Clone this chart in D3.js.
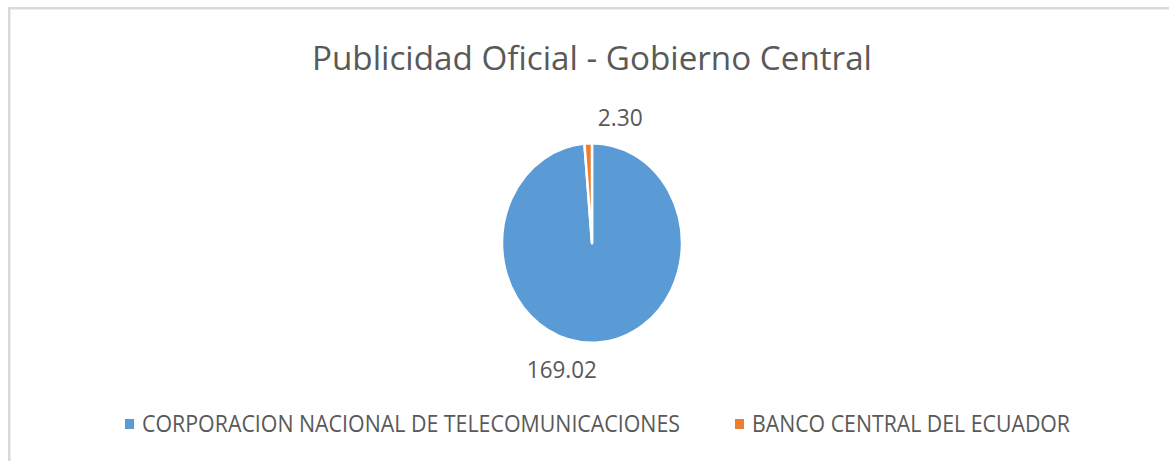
<!DOCTYPE html>
<html lang="es">
<head>
    <meta charset="UTF-8">
    <title>Publicidad Oficial - Gobierno Central</title>
    <style>
        body {
            margin: 0;
            background: #fff;
            font-family: "Open Sans", "Noto Sans", Arial, sans-serif;
        }
        text {
            fill: #595959;
        }
    </style>
</head>
<body>
    <div id="chart"></div>

    <script src="https://d3js.org/d3.v7.min.js"></script>
    <script>
        // Data
        const categories = ['CORPORACION NACIONAL DE TELECOMUNICACIONES', 'BANCO CENTRAL DEL ECUADOR'];
        const values = [169.02, 2.30];
        const title = 'Publicidad Oficial - Gobierno Central';

        // Layout
        const W = 1169, H = 461;
        const cx = 592, cy = 243;
        const radius = 100;
        const squeeze = 0.9;            // the pie is drawn a bit narrower than tall
        const colors = ['#5B9BD5', '#ED7D31'];
        const labelDx = [-35, 33];
        const labelWidths = [70, 45];
        const legendX = [125, 735];
        const legendWidths = [538, 318];

        const svg = d3.select('#chart')
            .append('svg')
            .attr('width', W)
            .attr('height', H);

        // chart frame (continues off the right and bottom edges)
        svg.append('rect')
            .attr('x', 9.25)
            .attr('y', 8.25)
            .attr('width', W + 20)
            .attr('height', H + 20)
            .attr('fill', '#fff')
            .attr('stroke', '#d9d9d9')
            .attr('stroke-width', 2.5);

        svg.append('text')
            .attr('x', 312)
            .attr('y', 70)
            .attr('font-size', 33)
            .attr('textLength', 560)
            .attr('lengthAdjust', 'spacingAndGlyphs')
            .text(title);

        const pie = d3.pie().sort(null).value(d => d);
        const arcs = pie(values);

        const arc = d3.arc().innerRadius(0).outerRadius(radius);
        const labelArc = d3.arc().innerRadius(radius * 1.27).outerRadius(radius * 1.27);

        const g = svg.append('g')
            .attr('transform', `translate(${cx},${cy}) scale(${squeeze},1)`);

        g.selectAll('path')
            .data(arcs)
            .enter()
            .append('path')
            .attr('d', arc)
            .attr('fill', (d, i) => colors[i])
            .attr('stroke', '#fff')
            .attr('stroke-width', 2.8)
            .attr('stroke-linejoin', 'round');

        // data labels
        svg.selectAll('text.value')
            .data(arcs)
            .enter()
            .append('text')
            .attr('class', 'value')
            .attr('x', (d, i) => cx + labelArc.centroid(d)[0] * squeeze + labelDx[i])
            .attr('y', (d, i) => cy + labelArc.centroid(d)[1] + (i === 1 ? 10 : 8))
            .attr('text-anchor', 'middle')
            .attr('font-size', 23)
            .attr('textLength', (d, i) => labelWidths[i])
            .attr('lengthAdjust', 'spacingAndGlyphs')
            .text(d => d.data.toFixed(2));

        // legend
        const legend = svg.selectAll('g.legend')
            .data(categories)
            .enter()
            .append('g')
            .attr('class', 'legend')
            .attr('transform', (d, i) => `translate(${legendX[i]},424)`);

        legend.append('rect')
            .attr('x', 0)
            .attr('y', -5)
            .attr('width', 9)
            .attr('height', 10)
            .attr('fill', (d, i) => colors[i]);

        legend.append('text')
            .attr('x', 17)
            .attr('y', 8)
            .attr('font-size', 23)
            .attr('textLength', (d, i) => legendWidths[i])
            .attr('lengthAdjust', 'spacingAndGlyphs')
            .text(d => d);
    </script>
</body>
</html>
